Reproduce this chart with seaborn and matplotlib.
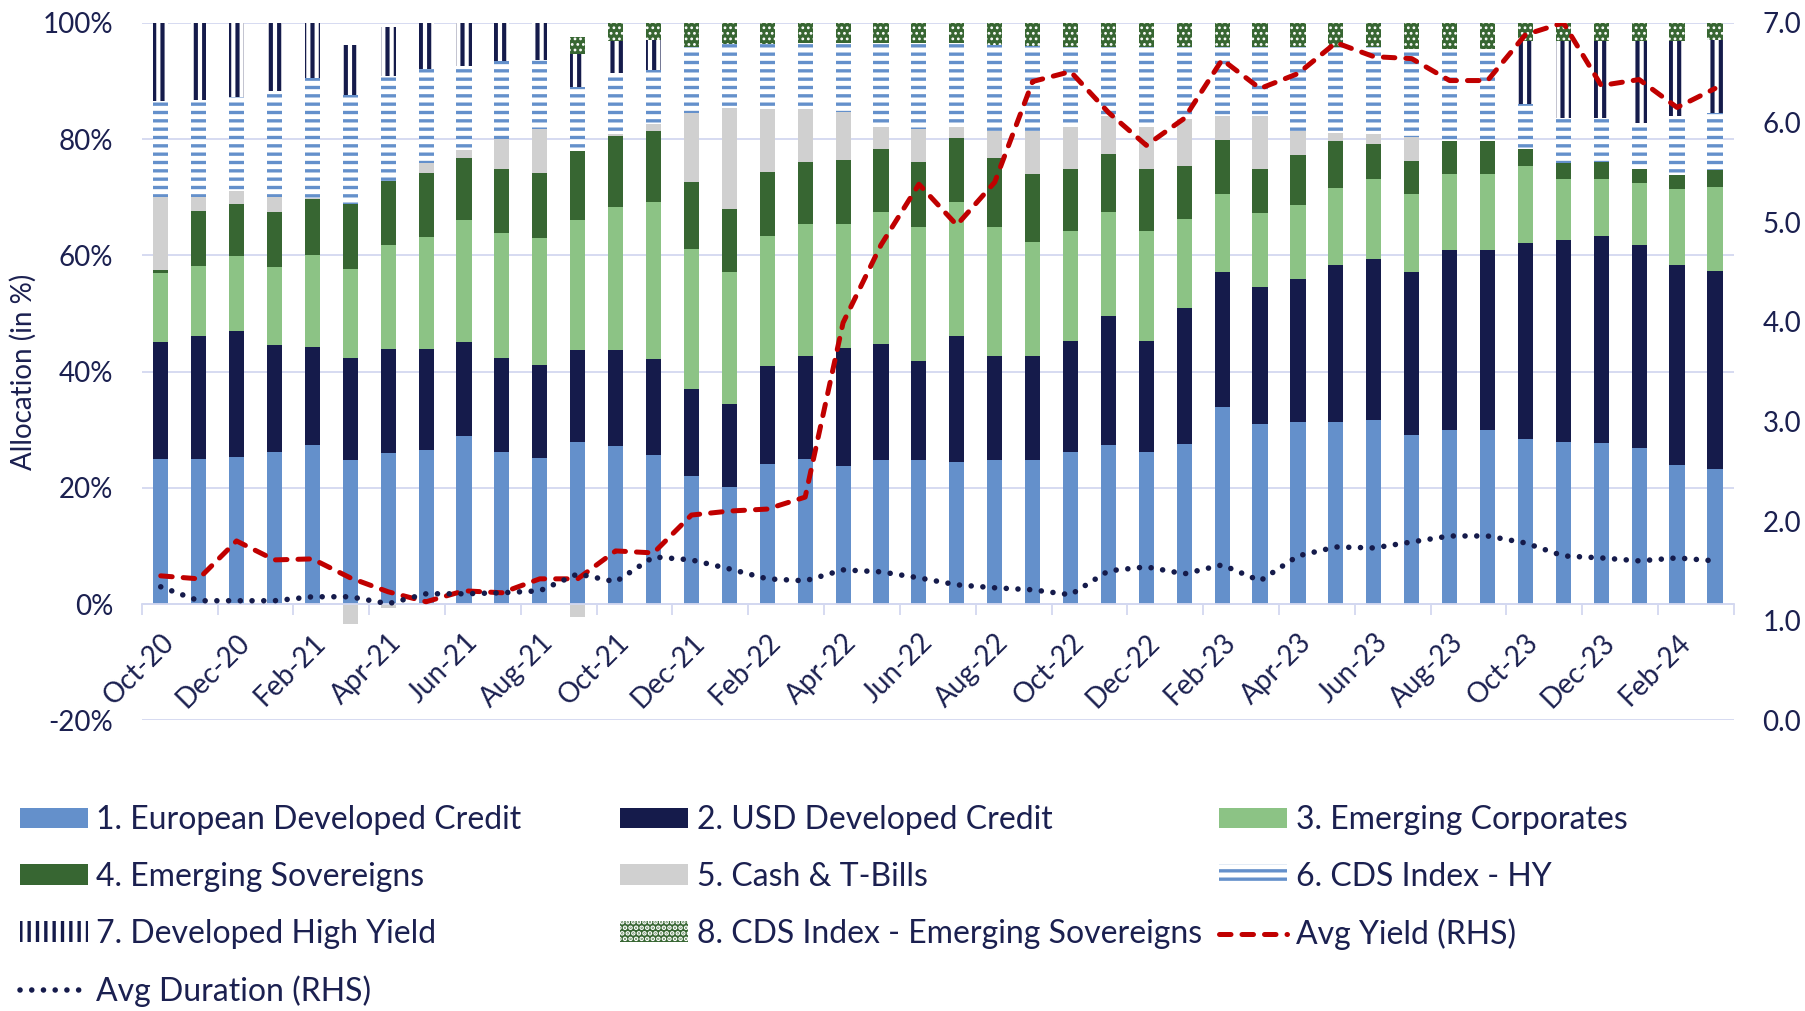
import numpy as np
import pandas as pd
import matplotlib
matplotlib.use('Agg')
import matplotlib.pyplot as plt
from matplotlib.patches import Patch
from matplotlib.lines import Line2D
import seaborn as sns

# Style
sns.set_theme(style='white')
plt.rcParams['font.family'] = ['Lato', 'DejaVu Sans']
plt.rcParams['hatch.linewidth'] = 2.4

TXT = '#1B2050'
GRID = '#D3D8F0'
C_EUR = '#6490CB'
C_USD = '#151B4B'
C_EMC = '#8CC385'
C_EMS = '#376632'
C_CASH = '#D0D0D0'
C_RED = '#C00000'

# Data (allocation in %, yield / duration on RHS)
months = pd.date_range('2020-10-01', periods=42, freq='MS').strftime('%b-%y').tolist()

eur = [24.9, 24.9, 25.3, 26.2, 27.4, 24.8, 26.0, 26.5, 28.9, 26.1, 25.1, 27.9, 27.2, 25.6,
       22.1, 20.2, 24.1, 24.9, 23.7, 24.8, 24.8, 24.4, 24.8, 24.8, 26.2, 27.3, 26.2, 27.5,
       33.9, 30.9, 31.3, 31.3, 31.7, 29.1, 30.0, 30.0, 28.4, 27.9, 27.7, 26.8, 23.9, 23.2]
usd = [20.1, 21.3, 21.6, 18.4, 16.8, 17.5, 17.8, 17.4, 16.2, 16.2, 16.1, 15.8, 16.5, 16.5,
       14.9, 14.3, 16.8, 17.8, 20.4, 19.9, 17.0, 21.8, 17.9, 17.9, 19.0, 22.3, 19.0, 23.4,
       23.2, 23.6, 24.6, 27.1, 27.6, 28.1, 30.9, 30.9, 33.7, 34.7, 35.6, 35.0, 34.4, 34.1]
em_corp = [12.0, 12.0, 13.0, 13.4, 15.8, 15.3, 17.9, 19.3, 20.9, 21.6, 21.7, 22.3, 24.6, 27.0,
           24.1, 22.7, 22.4, 22.7, 21.2, 22.8, 23.0, 22.9, 22.2, 19.5, 18.9, 17.8, 18.9, 15.3,
           13.4, 12.7, 12.7, 13.2, 13.9, 13.3, 13.1, 13.1, 13.3, 10.5, 9.9, 10.6, 13.1, 14.5]
em_sov = [0.5, 9.5, 8.9, 9.5, 9.6, 11.2, 11.1, 10.9, 10.7, 10.9, 11.3, 11.9, 12.2, 12.2,
          11.5, 10.7, 11.1, 10.6, 11.1, 10.7, 11.2, 11.0, 11.8, 11.7, 10.7, 10.0, 10.7, 9.2,
          9.3, 7.7, 8.6, 8.0, 5.9, 5.8, 5.6, 5.6, 2.8, 2.8, 2.8, 2.5, 2.4, 2.9]
cash = [12.5, 2.3, 2.2, 2.5, 0.2, -3.5, -0.7, 1.8, 1.4, 5.2, 7.5, -2.2, 0.3, 1.2,
        11.8, 17.4, 10.7, 9.1, 8.2, 3.9, 5.8, 2.0, 4.7, 7.4, 7.2, 6.5, 7.2, 8.1,
        4.2, 9.0, 4.2, 1.5, 1.8, 4.0, 0.0, 0.0, 0.0, 0.0, 0.0, 0.0, 0.0, 0.0]
cds_hy = [16.6, 16.7, 16.2, 18.3, 20.7, 18.8, 18.1, 16.2, 14.5, 13.5, 11.9, 11.1, 10.5, 9.4,
          11.4, 11.0, 11.2, 11.4, 11.9, 14.4, 14.7, 14.4, 14.7, 14.7, 13.8, 11.9, 13.8, 12.3,
          11.8, 11.9, 14.4, 14.7, 14.9, 15.1, 15.8, 15.8, 7.9, 7.7, 7.7, 7.8, 10.2, 9.8]
dev_hy = [13.3, 13.3, 12.8, 11.7, 9.5, 8.5, 8.3, 7.9, 7.4, 6.5, 6.4, 5.6, 5.6, 5.1,
          0, 0, 0, 0, 0, 0, 0, 0, 0, 0, 0, 0, 0, 0,
          0, 0, 0, 0, 0, 0, 0, 0, 10.7, 13.2, 13.1, 14.1, 12.8, 12.6]
cds_em = [0, 0, 0, 0, 0, 0, 0, 0, 0, 0, 0, 3.0, 3.2, 3.0,
          4.2, 3.7, 3.7, 3.5, 3.5, 3.5, 3.5, 3.5, 3.9, 3.9, 4.2, 4.2, 4.2, 4.2,
          4.2, 4.2, 4.2, 4.2, 4.2, 4.6, 4.6, 4.6, 3.2, 3.2, 3.2, 3.2, 3.2, 2.9]
avg_yield = [1.45, 1.42, 1.80, 1.61, 1.62, 1.43, 1.29, 1.19, 1.30, 1.28, 1.42, 1.42, 1.70, 1.68,
             2.06, 2.10, 2.12, 2.24, 3.99, 4.77, 5.38, 4.97, 5.40, 6.41, 6.51, 6.10, 5.77, 6.04,
             6.63, 6.34, 6.49, 6.80, 6.66, 6.64, 6.42, 6.42, 6.88, 7.00, 6.37, 6.43, 6.15, 6.34]
avg_duration = [1.34, 1.20, 1.20, 1.20, 1.24, 1.24, 1.17, 1.27, 1.27, 1.28, 1.30, 1.47, 1.39, 1.64,
                1.61, 1.52, 1.42, 1.40, 1.51, 1.49, 1.43, 1.36, 1.33, 1.31, 1.26, 1.50, 1.54, 1.47,
                1.56, 1.40, 1.65, 1.74, 1.73, 1.79, 1.85, 1.85, 1.78, 1.65, 1.63, 1.60, 1.63, 1.60]

labels = ['1. European Developed Credit', '2. USD Developed Credit', '3. Emerging Corporates',
          '4. Emerging Sovereigns', '5. Cash & T-Bills', '6. CDS Index - HY',
          '7. Developed High Yield', '8. CDS Index - Emerging Sovereigns',
          'Avg Yield (RHS)', 'Avg Duration (RHS)']

styles = [
    dict(facecolor=C_EUR, edgecolor=C_EUR),
    dict(facecolor=C_USD, edgecolor=C_USD),
    dict(facecolor=C_EMC, edgecolor=C_EMC),
    dict(facecolor=C_EMS, edgecolor=C_EMS),
    dict(facecolor=C_CASH, edgecolor=C_CASH),
    dict(facecolor='white', edgecolor=C_EUR, hatch='--'),
    dict(facecolor='white', edgecolor=C_USD, hatch='||'),
    dict(facecolor=C_EMS, edgecolor='white', hatch='...'),
]
hatch_lw = [None, None, None, None, None, 2.4, 3.0, 1.2]

YIELD_LW, YIELD_DASH = 3.6, [2.3, 2.2]
DUR_LW, DUR_DASH = 4.0, [0.01, 2.1]


def fix_hatch(patches, lw):
    if lw is None:
        return
    for p in patches:
        if hasattr(p, 'set_hatch_linewidth'):
            p.set_hatch_linewidth(lw)


W, H = 1806, 1011
fig = plt.figure(figsize=(W / 100, H / 100), dpi=100)
ax = fig.add_axes([0.0785, 0.2875, 0.8816, 0.69])

x = np.arange(len(months))
bw = 0.4

# stacked bars (cash may be negative -> drawn below zero)
bottom = np.zeros(len(x))
for vals, st in zip([eur, usd, em_corp, em_sov], styles[:4]):
    ax.bar(x, vals, bw, bottom=bottom, linewidth=0, **st)
    bottom = bottom + np.array(vals)

cash_arr = np.array(cash)
ax.bar(x, cash_arr, bw, bottom=np.where(cash_arr >= 0, bottom, 0), linewidth=0, **styles[4])
bottom = bottom + np.clip(cash_arr, 0, None)

for vals, st, hl in zip([cds_hy, dev_hy, cds_em], styles[5:], hatch_lw[5:]):
    bars = ax.bar(x, vals, bw, bottom=bottom, linewidth=0, **st)
    fix_hatch(bars, hl)
    bottom = bottom + np.array(vals)

# left axis
ax.set_ylim(-20, 100)
ax.set_yticks(range(-20, 101, 20))
ax.set_yticklabels([f'{v}%' for v in range(-20, 101, 20)])
ax.set_axisbelow(True)
ax.yaxis.grid(True, color=GRID, linewidth=1.3)
ax.xaxis.grid(False)
for s in ['left', 'right', 'top']:
    ax.spines[s].set_visible(False)
ax.spines['bottom'].set_position(('data', 0))
ax.spines['bottom'].set_color(GRID)
ax.spines['bottom'].set_linewidth(1.3)
ax.tick_params(axis='y', length=0, pad=20.5, labelsize=20, labelcolor=TXT)
ax.set_ylabel('Allocation (in %)', fontsize=20, color=TXT)
ax.yaxis.set_label_coords(-0.066, 0.5)

ax.set_xlim(-0.5, len(x) - 0.5)
ax.set_xticks(np.arange(-0.5, len(x), 2))
ax.set_xticklabels([])
ax.set_xticks(x[::2], minor=True)
ax.set_xticklabels(months[::2], minor=True, rotation=45, ha='right', va='top',
                   rotation_mode='anchor')
ax.tick_params(axis='x', which='major', bottom=True, length=8, width=1.3, color=GRID, direction='out')
ax.tick_params(axis='x', which='minor', bottom=True, length=0, pad=18, labelsize=20, labelcolor=TXT)

# right axis lines
ax2 = ax.twinx()
sns.lineplot(x=x, y=avg_yield, ax=ax2, color=C_RED, linewidth=YIELD_LW, legend=False)
sns.lineplot(x=x, y=avg_duration, ax=ax2, color=C_USD, linewidth=DUR_LW, legend=False)
yl, dl = ax2.lines[0], ax2.lines[1]
yl.set_dashes(YIELD_DASH)
yl.set_dash_capstyle('round')
dl.set_dashes(DUR_DASH)
dl.set_dash_capstyle('round')
ax2.set_ylim(0, 7)
ax2.set_yticks(range(0, 8))
ax2.set_yticklabels([f'{v:.1f}' for v in range(0, 8)])
ax2.tick_params(axis='y', length=0, pad=20.5, labelsize=20, labelcolor=TXT)
ax2.set_ylabel('')
ax2.set_xlabel('')
ax2.grid(False)
for s in ax2.spines.values():
    s.set_visible(False)
ax.set_xlim(-0.5, len(x) - 0.5)

# legend (three columns, filled row-wise like the original)
handles = []
for st, hl in zip(styles, hatch_lw):
    h = Patch(linewidth=0, **st)
    fix_hatch([h], hl)
    handles.append(h)
hy = Line2D([], [], color=C_RED, linewidth=YIELD_LW, dash_capstyle='round')
hy.set_dashes(YIELD_DASH)
hd = Line2D([], [], color=C_USD, linewidth=DUR_LW, dash_capstyle='round')
hd.set_dashes(DUR_DASH)
handles += [hy, hd]

leg_kw = dict(loc='upper left', frameon=False, fontsize=23, handlelength=2.13,
              handleheight=0.61, handletextpad=0.27, labelspacing=0.84, borderpad=0,
              borderaxespad=0, labelcolor=TXT)
cols = [[0, 3, 6, 9], [1, 4, 7], [2, 5, 8]]
col_x = [19.6, 620, 1219]
for idx, cx in zip(cols, col_x):
    fig.legend(handles=[handles[i] for i in idx], labels=[labels[i] for i in idx],
               bbox_to_anchor=(cx / W, 1 - 805 / H), **leg_kw)

fig.savefig('out.png', dpi=100)
